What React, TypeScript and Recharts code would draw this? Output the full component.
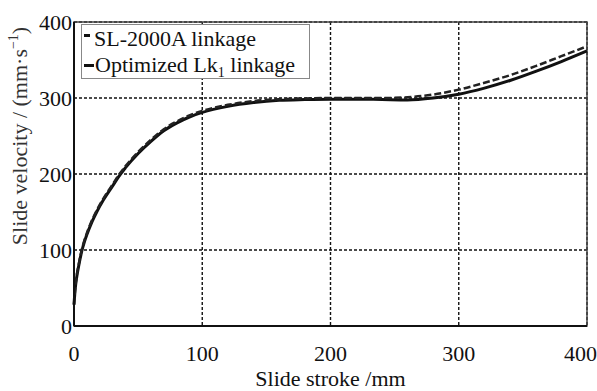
import React from "react";
import {
  LineChart,
  Line,
  XAxis,
  YAxis,
  CartesianGrid,
  ReferenceArea,
  Legend,
  Label,
} from "recharts";

const strokeX = [0, 1, 2, 4, 6, 8, 10, 14, 18, 23, 30, 35, 40, 50, 60, 70, 80, 90, 100, 120, 140, 160, 180, 200, 220, 240, 260, 280, 300, 320, 340, 360, 380, 400];
const optimizedV = [28, 50, 63, 82, 98, 110, 120, 137, 151, 166, 184, 197, 208, 227, 243, 257, 267, 275, 281, 289, 294, 297, 298, 298.5, 298.5, 298, 297.5, 300, 305, 313, 323, 335, 348, 362];
const sl2000aV = [28, 51, 65, 84, 100, 112, 122, 139, 153, 168, 186, 199, 210, 229, 245, 259, 269, 277, 283, 291, 296, 298.5, 299.5, 300, 300, 300, 301, 304.5, 311, 320, 330, 342, 355, 368];
const xTicks = [0, 100, 200, 300, 400];
const yTicks = [0, 100, 200, 300, 400];

const data = strokeX.map((x, i) => ({ x, opt: optimizedV[i], sl: sl2000aV[i] }));

const FONT = '"Liberation Serif", "Times New Roman", serif';

const renderLegend = () => (
  <div
    style={{
      width: 229,
      height: 55,
      border: "1px solid #888",
      background: "#fff",
      fontFamily: FONT,
      fontSize: 22,
      color: "#111",
      boxSizing: "border-box",
      paddingLeft: 2,
      paddingTop: 1,
    }}
  >
    <div style={{ display: "flex", alignItems: "center", height: 26 }}>
      <span style={{ display: "inline-block", width: 6, height: 3, background: "#111", marginRight: 4, marginTop: -8 }} />
      <span>SL-2000A linkage</span>
    </div>
    <div style={{ display: "flex", alignItems: "center", height: 26 }}>
      <span style={{ display: "inline-block", width: 10, height: 3, background: "#111", marginRight: 1 }} />
      <span>
        Optimized Lk<span style={{ fontSize: 14, position: "relative", top: 5 }}>1</span> linkage
      </span>
    </div>
  </div>
);

const YLabel = (props: any) => {
  const vb = props.viewBox || { x: 0, y: 22, width: 74, height: 304 };
  const cx = vb.x + 27;
  const cy = vb.y + vb.height / 2 - 38;
  return (
    <text
      x={cx}
      y={cy}
      transform={`rotate(-90, ${cx}, ${cy})`}
      textAnchor="middle"
      fontFamily={FONT}
      fontSize={22}
      fill="#333"
    >
      Slide velocity / (mm·s
      <tspan fontSize={14} dy={-9}>−1</tspan>
      <tspan dy={9}>)</tspan>
    </text>
  );
};

export default function App() {
  return (
    <div style={{ position: "absolute", left: 0, top: 0, fontFamily: FONT }}>
      <LineChart
        width={597}
        height={391}
        data={data}
        margin={{ top: 22, right: 10, left: 0, bottom: 0 }}
      >
        <CartesianGrid
          stroke="#111"
          strokeDasharray="3 2"
          strokeWidth={1.4}
        />
        <ReferenceArea
          x1={0}
          x2={400}
          y1={0}
          y2={400}
          fill="none"
          stroke="#444"
          strokeWidth={1.5}
          ifOverflow="visible"
        />
        <XAxis
          dataKey="x"
          type="number"
          domain={[0, 400]}
          ticks={xTicks}
          height={65}
          tickSize={0}
          tickLine={false}
          tickMargin={19}
          axisLine={{ stroke: "#111", strokeWidth: 2 }}
          tick={{ fontFamily: FONT, fontSize: 22, fill: "#111" }}
        >
          <Label
            value="Slide stroke /mm"
            position="insideBottom"
            offset={5}
            style={{ fontFamily: FONT, fontSize: 22, fill: "#111" }}
          />
        </XAxis>
        <YAxis
          type="number"
          domain={[0, 400]}
          ticks={yTicks}
          width={74}
          tickSize={0}
          tickLine={false}
          tickMargin={2}
          axisLine={{ stroke: "#111", strokeWidth: 2 }}
          tick={{ fontFamily: FONT, fontSize: 22, fill: "#111" }}
        >
          <Label content={<YLabel />} />
        </YAxis>
        <Line
          type="monotoneX"
          dataKey="opt"
          name="Optimized Lk1 linkage"
          stroke="#111"
          strokeWidth={3}
          dot={false}
          isAnimationActive={false}
        />
        <Line
          type="monotoneX"
          dataKey="sl"
          name="SL-2000A linkage"
          stroke="#222"
          strokeWidth={2.5}
          strokeDasharray="7 3"
          dot={false}
          isAnimationActive={false}
        />
        <Legend
          content={renderLegend}
          layout="horizontal"
          verticalAlign="middle"
          align="center"
          wrapperStyle={{ position: "absolute", left: 81, top: 24, width: 229, height: 55 }}
        />
      </LineChart>
    </div>
  );
}
